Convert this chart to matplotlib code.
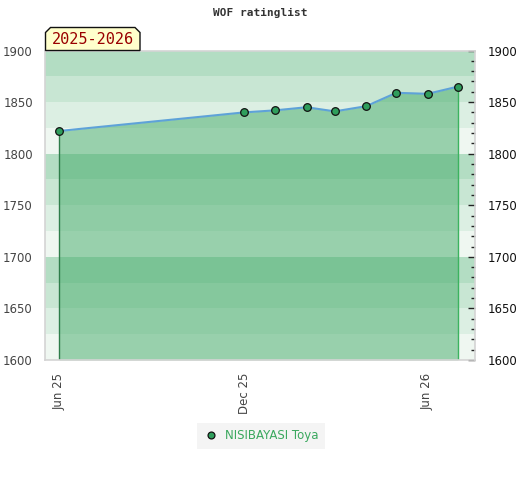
import matplotlib
matplotlib.use('Agg')
import matplotlib.pyplot as plt
import matplotlib.dates as mdates
from matplotlib.patches import Polygon
import datetime as dt

# rating list data
dates = ['2025-06-01', '2025-12-01', '2026-01-01', '2026-02-01', '2026-03-01',
         '2026-04-01', '2026-05-01', '2026-06-01', '2026-07-01']
ratings = [1822, 1840, 1842, 1845, 1841, 1846, 1859, 1858, 1865]
player = 'NISIBAYASI Toya'
season = '2025-2026'
title = 'WOF ratinglist'

x = [dt.datetime.strptime(d, '%Y-%m-%d') for d in dates]
ymin, ymax = 1600, 1900

fig = plt.figure(figsize=(5.2, 4.8), dpi=100)
ax = fig.add_axes([45.3/520, 120/480, (475-45.3)/520, (360-50.5)/480])

# horizontal background bands, 25 points each
band_colors = ['#eff7f1', '#dcefe3', '#c8e6d3', '#b3ddc3']
for i, lo in enumerate(range(ymin, ymax, 25)):
    ax.axhspan(lo, lo + 25, color=band_colors[i % 4], lw=0, zorder=0)

ax.fill_between(x, ratings, ymin, color='#43ab69', alpha=0.5, lw=0, zorder=1)
ax.vlines(x[0], ymin, ratings[0], color='#2e7d4a', lw=1, zorder=2)
ax.vlines(x[-1], ymin, ratings[-1], color='#3cb35f', lw=1, zorder=2)
ax.plot(x, ratings, color='#5ea2d8', lw=1.5, zorder=3)
ax.plot(x, ratings, 'o', ms=5.5, mfc='#2f9e5c', mec='#111111', mew=0.9, zorder=4,
        label=player)

ax.set_ylim(ymin, ymax)
ax.set_xlim(dt.datetime(2025, 5, 18), dt.datetime(2026, 7, 18))

ax.xaxis.set_major_locator(mdates.MonthLocator(bymonth=[6, 12]))
ax.xaxis.set_major_formatter(mdates.DateFormatter('%b %y'))
ax.tick_params(axis='x', length=0, pad=9, labelsize=8.5, labelcolor='#444444',
               labelrotation=90)

ax.set_yticks(range(ymin, ymax + 1, 50))
ax.tick_params(axis='y', which='both', left=False, right=True, labelleft=True,
               labelright=True, direction='in', labelsize=8.5, labelcolor='#444444',
               pad=9)
ax.tick_params(axis='y', which='major', length=5, width=1, color='#222222')
ax.set_yticks(range(ymin, ymax, 10), minor=True)
ax.tick_params(axis='y', which='minor', length=3, width=1, color='#222222')
for t in ax.yaxis.get_major_ticks():
    t.label2.set_color('#111111')

for s in ax.spines.values():
    s.set_color('#d4d4d4')
    s.set_linewidth(1.2)

fig.text(0.5, 1 - 13/480, title, ha='center', va='center',
         family='DejaVu Sans Mono', weight='bold', fontsize=8, color='#333333')

# season label box with clipped top corners
L, R, B, T, c = 45.5, 140, 50.5, 27.5, 5
pts = [(L, B), (L, T + c), (L + c, T), (R - c, T), (R, T + c), (R, B)]
pts = [(px / 520, 1 - py / 480) for px, py in pts]
fig.patches.append(Polygon(pts, closed=True, transform=fig.transFigure,
                           facecolor='#ffffcc', edgecolor='#111111', lw=1, zorder=5))
fig.text(92.5/520, 1 - 40/480, season, ha='center', va='center',
         family='DejaVu Sans Mono', fontsize=11, color='#990000', zorder=6)

leg = fig.legend(loc='center', bbox_to_anchor=(261/520, 1 - 436/480), frameon=True,
                 fontsize=8.5, handletextpad=0.6, borderpad=0.55, handlelength=1.2,
                 markerscale=0.9)
leg.get_frame().set_facecolor('#f2f2f2')
leg.get_frame().set_edgecolor('none')
leg.get_frame().set_boxstyle('square', pad=0)
for t in leg.get_texts():
    t.set_color('#3aa85e')

fig.savefig('out.png', dpi=100)
